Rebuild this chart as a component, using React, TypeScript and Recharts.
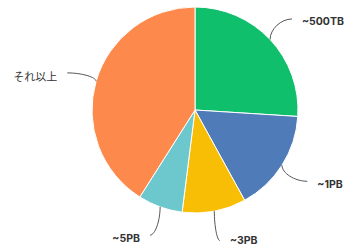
import React from 'react';
import { PieChart, Pie, Cell } from 'recharts';

const labels = ['~500TB', '~1PB', '~3PB', '~5PB', 'それ以上'];
const shares = [26, 16, 10, 7, 41];
const colors = ['#10bf6b', '#4f7bb8', '#f8be06', '#6cc8cc', '#fd8a4c'];

const data = labels.map((name, i) => ({ name, value: shares[i] }));

const RAD = Math.PI / 180;

const renderLabel = (props: any) => {
  const { cx, cy, midAngle, outerRadius, name } = props;
  const cos = Math.cos(-midAngle * RAD);
  const sin = Math.sin(-midAngle * RAD);
  const sx = cx + outerRadius * cos;
  const sy = cy + outerRadius * sin;
  const ex = cx + (outerRadius + 30) * cos;
  const ey = cy + (outerRadius + 30) * sin;
  const dx = ex - sx;
  const dy = ey - sy;
  const right = ex > cx;
  const isJa = /[^\x00-\x7f]/.test(name);
  // keep the lowest labels inside the picture
  const ty = Math.min(ey + 3, 240);
  return (
    <g>
      <path
        d={`M${sx},${sy} C${sx},${sy + dy * 0.5} ${ex - dx * 0.5},${ey} ${ex},${ey}`}
        stroke="#555"
        strokeWidth={1}
        fill="none"
      />
      <text
        x={right ? ex + 10 : ex - 10}
        y={ty}
        textAnchor={right ? 'start' : 'end'}
        dominantBaseline="central"
        fill="#333"
        fontSize={isJa ? 11 : 10.5}
        fontWeight={isJa ? 400 : 700}
        fontFamily={isJa ? '"Noto Sans CJK JP", sans-serif' : 'Inter, "Noto Sans", sans-serif'}
      >
        {name}
      </text>
    </g>
  );
};

export default function App() {
  return (
    <div style={{ position: 'absolute', left: 0, top: 0, background: '#fff' }}>
      <PieChart width={350} height={248} margin={{ top: 0, right: 0, bottom: 0, left: 0 }}>
        <Pie
          data={data}
          dataKey="value"
          nameKey="name"
          cx={195}
          cy={110}
          outerRadius={103}
          startAngle={90}
          endAngle={-270}
          stroke="#fff"
          strokeWidth={1}
          label={renderLabel}
          labelLine={false}
          isAnimationActive={false}
        >
          {data.map((d, i) => (
            <Cell key={d.name} fill={colors[i]} />
          ))}
        </Pie>
      </PieChart>
    </div>
  );
}
